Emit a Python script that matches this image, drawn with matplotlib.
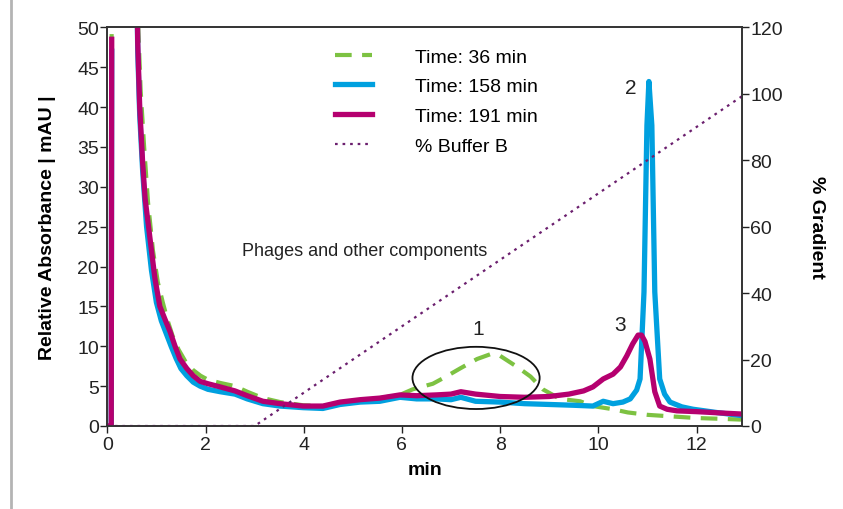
import numpy as np
import matplotlib
matplotlib.use("Agg")
import matplotlib.pyplot as plt
from matplotlib.patches import Ellipse
from matplotlib.lines import Line2D

plt.rcParams['font.family'] = ['Liberation Sans', 'DejaVu Sans']

nan = np.nan
# Time: 191 min (magenta)
t191_x = [0, 0.08, 0.09, nan, 0.58, 0.62, 0.66, 0.72, 0.77, 0.87, 0.97, 1.07, 1.18, 1.28, 1.38, 1.48,
          1.62, 1.75, 1.89, 2.05, 2.30, 2.60, 2.85, 3.17, 3.52, 3.99, 4.39, 4.74, 5.15, 5.55, 5.96,
          6.3, 6.7, 7.0, 7.2, 7.5, 8.0, 8.5, 9.0, 9.4, 9.7, 9.89, 10.1, 10.3, 10.45, 10.58, 10.7,
          10.81, 10.88, 10.95, 11.05, 11.15, 11.25, 11.4, 11.6, 12.0, 12.3, 12.6, 12.92]
t191_y = [0, 0, 48.5, nan, 65, 48, 40, 33, 28.5, 23.5, 18.5, 15, 13.3, 11.8, 10, 8.4,
          7.2, 6.3, 5.6, 5.3, 4.9, 4.4, 3.8, 3.1, 2.8, 2.5, 2.5, 3.0, 3.3, 3.5, 3.9,
          3.8, 3.9, 4.0, 4.3, 4.0, 3.7, 3.6, 3.7, 4.0, 4.4, 4.9, 5.9, 6.5, 7.4, 8.8, 10.3,
          11.4, 11.4, 10.6, 8.4, 4.3, 2.5, 2.1, 1.9, 1.8, 1.7, 1.6, 1.5]

# Time: 158 min (blue)
t158_x = [0, 0.08, 0.09, nan, 0.58, 0.62, 0.66, 0.72, 0.80, 0.90, 1.00, 1.10, 1.20, 1.30, 1.40, 1.50,
          1.62, 1.75, 1.89, 2.05, 2.30, 2.60, 2.85, 3.17, 3.52, 3.99, 4.39, 4.74, 5.15, 5.55, 5.96,
          6.3, 6.7, 7.0, 7.2, 7.5, 8.0, 8.5, 9.0, 9.5, 9.89, 10.1, 10.3, 10.5, 10.65, 10.78, 10.85,
          10.93, 10.99, 11.03, 11.09, 11.15, 11.25, 11.35, 11.46, 11.7, 11.93, 12.4, 12.92]
t158_y = [0, 0, 47, nan, 65, 47, 39, 32, 25, 19.5, 15.5, 13.2, 11.6, 10, 8.5, 7.2,
          6.3, 5.5, 5.0, 4.6, 4.3, 4.0, 3.4, 2.8, 2.5, 2.3, 2.2, 2.7, 3.0, 3.1, 3.6,
          3.4, 3.4, 3.3, 3.6, 3.1, 3.0, 2.8, 2.7, 2.6, 2.5, 3.1, 2.8, 3.0, 3.4, 4.5, 5.9,
          16.8, 37.7, 43.2, 37.7, 16.8, 5.9, 4.0, 3.0, 2.4, 2.1, 1.7, 1.3]

# Time: 36 min (green dashed)
t36_x = [0, 0.08, 0.09, nan, 0.58, 0.63, 0.68, 0.75, 0.83, 0.93, 1.03, 1.13, 1.23, 1.33, 1.45, 1.60,
         1.75, 1.90, 2.05, 2.30, 2.60, 2.85, 3.17, 3.52, 3.99, 4.39, 4.74, 5.15, 5.55, 5.96, 6.22,
         6.63, 6.9, 7.18, 7.53, 7.80, 8.0, 8.35, 8.62, 8.87, 9.22, 9.63, 9.89, 10.3, 10.6, 11.0,
         11.5, 12.0, 12.5, 12.92]
t36_y = [0, 0, 60, nan, 65, 50, 42, 35, 28, 22, 18, 15.5, 13.2, 11.3, 9.6, 8.0,
         7.0, 6.3, 5.8, 5.4, 5.0, 4.3, 3.5, 3.0, 2.6, 2.5, 2.9, 3.2, 3.5, 3.9, 4.6,
         5.3, 6.2, 7.2, 8.4, 9.0, 8.8, 7.4, 6.2, 4.6, 3.4, 3.1, 2.5, 2.1, 1.7, 1.4,
         1.2, 1.0, 0.9, 0.8]

# % Buffer B gradient
grad_x = [0, 3.0, 13.0]
grad_y = [0, 0, 100]

labels = ["Time: 36 min", "Time: 158 min", "Time: 191 min", "% Buffer B"]
c_green = "#7dc242"
c_blue = "#00a0df"
c_mag = "#b5006f"
c_purp = "#6b1f6e"
c_axis = "#333333"

fig = plt.figure(figsize=(8.43, 5.10), dpi=100)
ax = fig.add_axes([107.3/843, 1-427/510, (741.7-107.3)/843, (427-28.3)/510])
ax2 = ax.twinx()

ax.plot(t36_x, t36_y, color=c_green, lw=3.0, dashes=(4, 2.5), zorder=2)
ax.plot(t158_x, t158_y, color=c_blue, lw=3.8, zorder=3, solid_joinstyle='round')
ax.plot(t191_x, t191_y, color=c_mag, lw=3.8, zorder=4, solid_joinstyle='round')
ax2.plot(grad_x, grad_y, color=c_purp, lw=1.6, ls=(0, (1.2, 2.2)))

ax.set_xlim(0, 12.92)
ax.set_ylim(0, 50)
ax2.set_ylim(0, 120)
ax.set_xticks(np.arange(0, 13, 2))
ax.set_yticks(np.arange(0, 51, 5))
ax2.set_yticks(np.arange(0, 121, 20))

for a in (ax, ax2):
    for s in a.spines.values():
        s.set_color(c_axis)
        s.set_linewidth(1.2)
    a.tick_params(colors="#222222", labelsize=14, length=5, width=1.0, pad=1)
ax.tick_params(axis='x', pad=2)

ax.set_xlabel("min", fontsize=14, fontweight='bold', labelpad=6)
ax.set_ylabel("Relative Absorbance | mAU |", fontsize=14, fontweight='bold', labelpad=15)
ax2.set_ylabel("% Gradient", fontsize=14, fontweight='bold', rotation=-90, labelpad=18, va='bottom')

ax.text(2.74, 22.0, "Phages and other components", fontsize=13, va='center', ha='left', color="#222222")
ax.text(7.55, 12.2, "1", fontsize=15, ha='center', va='center', color="#222222")
ax.text(10.66, 42.5, "2", fontsize=15, ha='center', va='center', color="#222222")
ax.text(10.44, 12.7, "3", fontsize=15, ha='center', va='center', color="#222222")
ax.add_patch(Ellipse((7.51, 6.03), 2.59, 7.8, fill=False, edgecolor="#111111", lw=1.3, zorder=5))

handles = [Line2D([], [], color=c_green, lw=3.0, dashes=(4, 2.5)),
           Line2D([], [], color=c_blue, lw=3.8),
           Line2D([], [], color=c_mag, lw=3.8),
           Line2D([], [], color=c_purp, lw=1.6, ls=(0, (1.2, 2.2)))]
fig.legend(handles, labels, loc='upper left', bbox_to_anchor=(335/843, 1-49/510), frameon=False,
           fontsize=14, handlelength=1.9, handletextpad=2.2, labelspacing=0.62, borderaxespad=0,
           borderpad=0)

fig.add_artist(Line2D([11/843, 11/843], [0, 1], color="#b4b4b4", lw=2, transform=fig.transFigure))

fig.savefig("out.png", dpi=100)
